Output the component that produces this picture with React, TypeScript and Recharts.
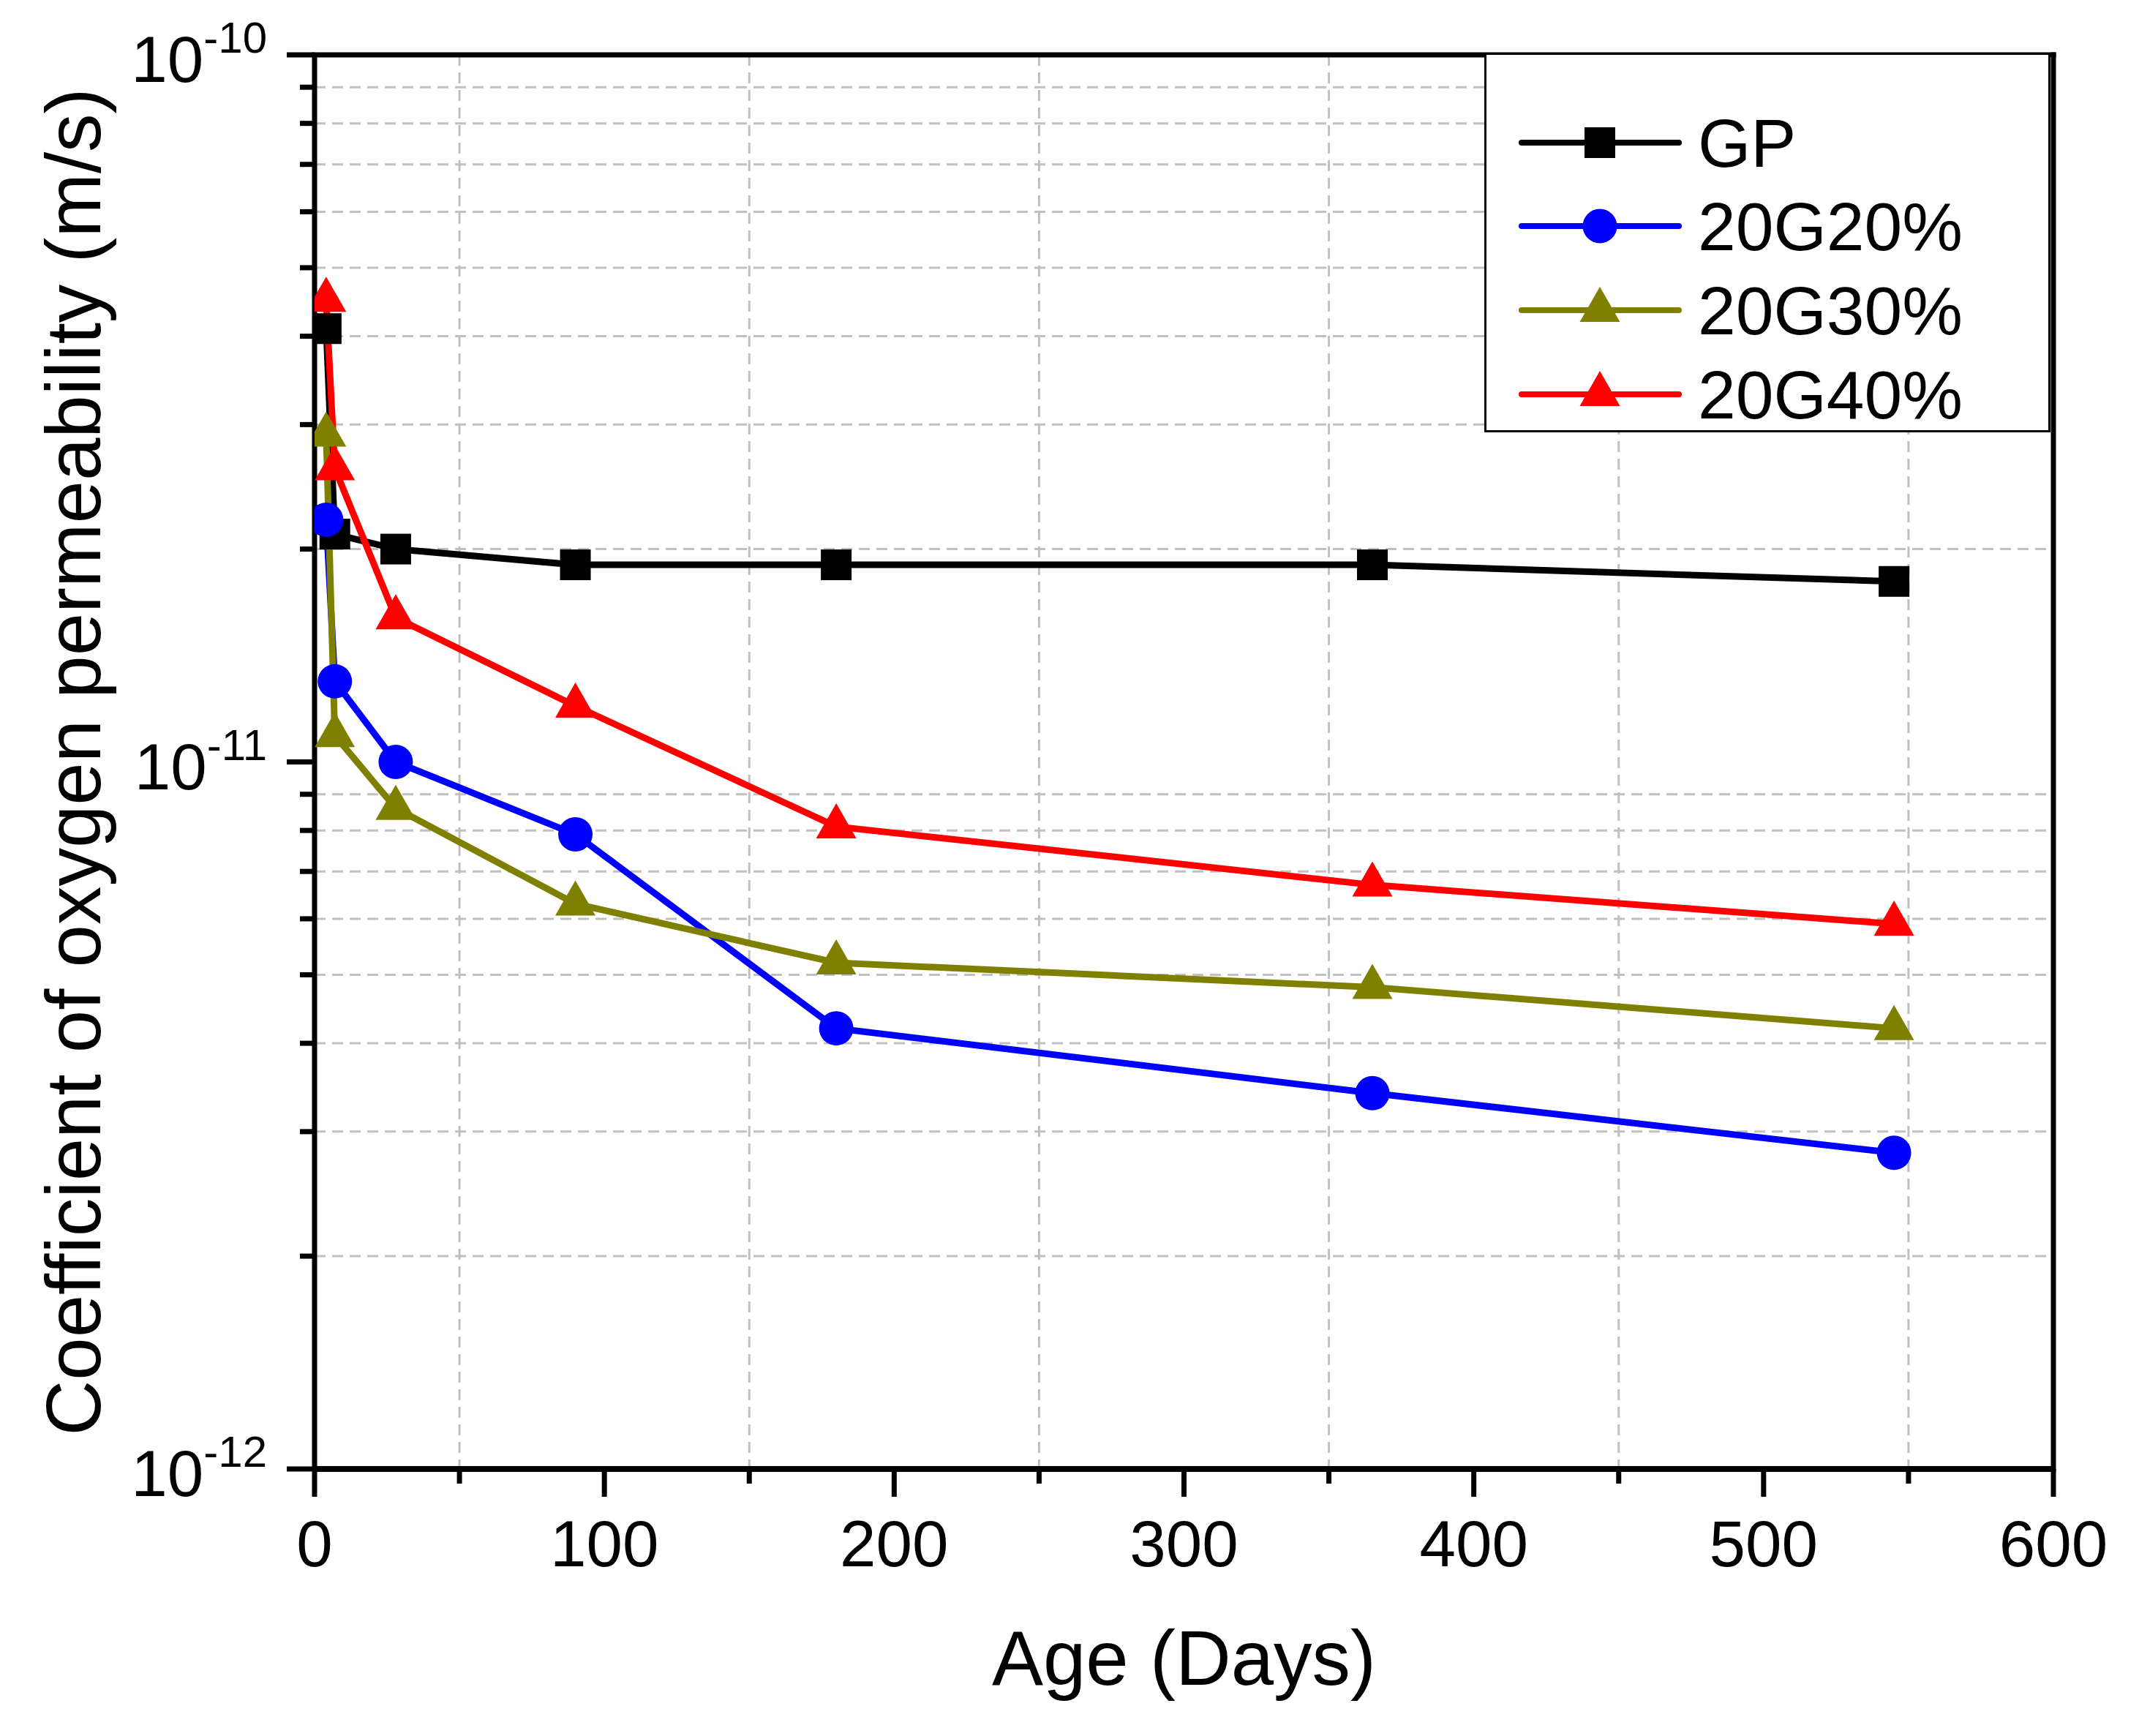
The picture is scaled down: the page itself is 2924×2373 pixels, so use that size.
import React from 'react';
import { LineChart, Line, XAxis, YAxis, CartesianGrid, ReferenceLine, Legend, Label } from 'recharts';

const ages = [4, 7, 28, 90, 180, 365, 545];
const gpValues = [4.1e-11, 2.1e-11, 2.0e-11, 1.9e-11, 1.9e-11, 1.9e-11, 1.8e-11];
const g20Values = [2.2e-11, 1.3e-11, 1.0e-11, 7.9e-12, 4.2e-12, 3.4e-12, 2.8e-12];
const g30Values = [2.9e-11, 1.09e-11, 8.6e-12, 6.3e-12, 5.2e-12, 4.8e-12, 4.2e-12];
const g40Values = [4.5e-11, 2.6e-11, 1.6e-11, 1.2e-11, 8.1e-12, 6.7e-12, 5.9e-12];

const xTicks = [0, 50, 100, 150, 200, 250, 300, 350, 400, 450, 500, 550, 600];
const xGridValues = [50, 150, 250, 350, 450, 550];
const yTicks = [
  1e-12, 2e-12, 3e-12, 4e-12, 5e-12, 6e-12, 7e-12, 8e-12, 9e-12,
  1e-11, 2e-11, 3e-11, 4e-11, 5e-11, 6e-11, 7e-11, 8e-11, 9e-11, 1e-10,
];
const yGridValues = [
  2e-12, 3e-12, 4e-12, 5e-12, 6e-12, 7e-12, 8e-12, 9e-12,
  2e-11, 3e-11, 4e-11, 5e-11, 6e-11, 7e-11, 8e-11, 9e-11,
];

const series = [
  { key: 'gp', name: 'GP', color: '#000000', shape: 'square', values: gpValues },
  { key: 'g20', name: '20G20%', color: '#0000ff', shape: 'circle', values: g20Values },
  { key: 'g30', name: '20G30%', color: '#808000', shape: 'triangle', values: g30Values },
  { key: 'g40', name: '20G40%', color: '#ff0000', shape: 'triangle', values: g40Values },
];

const data = ages.map((age, i) => {
  const row: any = { age };
  series.forEach((s) => {
    row[s.key] = s.values[i];
  });
  return row;
});

const FONT = '"Liberation Sans", Arial, Helvetica, sans-serif';

function drawMarker(shape: string, color: string, cx: number, cy: number, key?: any) {
  if (shape === 'square') {
    return <rect key={key} x={cx - 21} y={cy - 21} width={42} height={42} fill={color} />;
  }
  if (shape === 'circle') {
    return <circle key={key} cx={cx} cy={cy} r={23.5} fill={color} />;
  }
  const pts = `${cx},${cy - 32} ${cx - 27.5},${cy + 16} ${cx + 27.5},${cy + 16}`;
  return <polygon key={key} points={pts} fill={color} />;
}

const makeDot = (shape: string, color: string) => (props: any) => {
  const { cx, cy, index } = props;
  if (cx == null || cy == null) return <g key={`d-${index}`} />;
  return drawMarker(shape, color, cx, cy, `d-${index}`);
};

const YTick = (props: any) => {
  const { x, y, payload } = props;
  const v = payload.value;
  const exp = Math.round(Math.log10(v));
  const isMajor = Math.abs(v - Math.pow(10, exp)) / v < 1e-6;
  return (
    <g>
      <line x1={x} x2={x - (isMajor ? 38 : 20)} y1={y} y2={y} stroke="#000" strokeWidth={7} />
      {isMajor && (
        <text x={x - 65} y={y + 37} textAnchor="end" fontSize={89} fontFamily={FONT} fill="#000">
          <tspan>10</tspan>
          <tspan dy={-40} fontSize={60}>{String(exp)}</tspan>
        </text>
      )}
    </g>
  );
};

const XTick = (props: any) => {
  const { x, y, payload } = props;
  const v = payload.value;
  const isMajor = v % 100 === 0;
  return (
    <g>
      <line x1={x} x2={x} y1={y} y2={y + (isMajor ? 38 : 20)} stroke="#000" strokeWidth={7} />
      {isMajor && (
        <text x={x} y={y + 133} textAnchor="middle" fontSize={89} fontFamily={FONT} fill="#000">
          {v}
        </text>
      )}
    </g>
  );
};

const YTitle = (props: any) => {
  const vb = props.viewBox || { x: 0, y: 75, width: 430, height: 1933 };
  const cx = vb.x + 137;
  const cy = vb.y + vb.height / 2;
  return (
    <text
      x={cx}
      y={cy}
      transform={`rotate(-90 ${cx} ${cy})`}
      textAnchor="middle"
      fontSize={105}
      fontFamily={FONT}
      fill="#000"
    >
      Coefficient of oxygen permeability (m/s)
    </text>
  );
};

const XTitle = (props: any) => {
  const vb = props.viewBox || { x: 430, y: 2008, width: 2377, height: 365 };
  const cx = vb.x + vb.width / 2;
  const cy = vb.y + 295;
  return (
    <text x={cx} y={cy} textAnchor="middle" fontSize={105} fontFamily={FONT} fill="#000">
      Age (Days)
    </text>
  );
};

const LegendBox = () => {
  const rows = [123, 237, 352, 467];
  return (
    <div
      style={{
        width: 774,
        height: 519,
        border: '3px solid #000',
        background: '#fff',
        boxSizing: 'border-box',
        overflow: 'visible',
      }}
    >
      <svg width={768} height={513} style={{ display: 'block', overflow: 'visible' }}>
        {series.map((s, i) => {
          const cy = rows[i] - 3;
          return (
            <g key={s.key}>
              <line x1={48} x2={263} y1={cy} y2={cy} stroke={s.color} strokeWidth={8} strokeLinecap="round" />
              {drawMarker(s.shape, s.color, 155, cy)}
              <text x={289} y={cy + 33} fontSize={93} fontFamily={FONT} fill="#000">
                {s.name}
              </text>
            </g>
          );
        })}
      </svg>
    </div>
  );
};

export default function App() {
  return (
    <div style={{ position: 'absolute', left: 0, top: 0, width: 2924, height: 2373, background: '#fff' }}>
      <LineChart
        width={2924}
        height={2373}
        data={data}
        margin={{ top: 75, right: 117, bottom: 0, left: 0 }}
      >
        <CartesianGrid
          stroke="#c0c0c0"
          strokeWidth={3}
          strokeDasharray="15 9"
          horizontalValues={yGridValues}
          verticalValues={xGridValues}
        />
        <XAxis
          type="number"
          dataKey="age"
          domain={[0, 600]}
          ticks={xTicks}
          interval={0}
          height={365}
          tickSize={0}
          tickMargin={0}
          tickLine={false}
          tick={<XTick />}
          axisLine={{ stroke: '#000', strokeWidth: 8 }}
          allowDataOverflow
        >
          <Label content={<XTitle />} />
        </XAxis>
        <YAxis
          type="number"
          scale="log"
          domain={[1e-12, 1e-10]}
          ticks={yTicks}
          interval={0}
          width={430}
          tickSize={0}
          tickMargin={0}
          tickLine={false}
          tick={<YTick />}
          axisLine={{ stroke: '#000', strokeWidth: 7 }}
          allowDataOverflow
        >
          <Label content={<YTitle />} />
        </YAxis>
        <ReferenceLine y={1e-10} stroke="#000" strokeWidth={7} strokeLinecap="square" />
        <ReferenceLine x={600} stroke="#000" strokeWidth={7} strokeLinecap="square" />
        {series.map((s) => (
          <Line
            key={s.key}
            type="linear"
            dataKey={s.key}
            name={s.name}
            stroke={s.color}
            strokeWidth={9}
            dot={makeDot(s.shape, s.color)}
            activeDot={false}
            isAnimationActive={false}
          />
        ))}
        <Legend
          layout="horizontal"
          verticalAlign="middle"
          align="center"
          content={<LegendBox />}
          wrapperStyle={{ left: 2029, top: 72, width: 774, height: 519, margin: 0, padding: 0, overflow: 'visible' }}
        />
      </LineChart>
    </div>
  );
}
